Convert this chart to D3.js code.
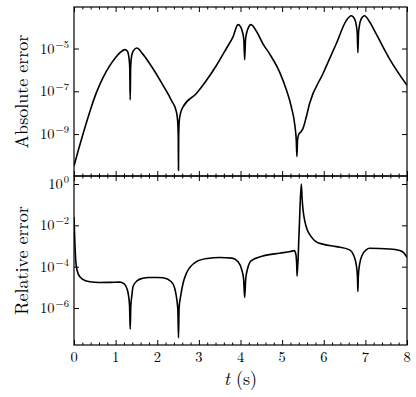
<!DOCTYPE html>
<html>
<head>
<meta charset="utf-8">
<script src="https://cdn.jsdelivr.net/npm/d3@7"></script>
<style>
  body { margin: 0; background: #fff; }
</style>
</head>
<body>
<div id="chart"></div>
<script>
// Absolute error curve
var tAbs = [0.00, 0.10, 0.22, 0.38, 0.54, 0.70, 0.86, 1.00, 1.10, 1.22, 1.28, 1.31, 1.33, 1.34, 1.35, 1.36, 1.37, 1.39, 1.43,
  1.51, 1.65, 1.82, 2.14, 2.34, 2.46, 2.49, 2.505, 2.51, 2.515, 2.53, 2.57, 2.62, 2.94, 3.18, 3.42, 3.66, 3.82,
  3.94, 4.00, 4.05, 4.08, 4.10, 4.12, 4.15, 4.20, 4.25, 4.40, 4.54, 4.70, 4.94, 5.10, 5.22, 5.31, 5.34, 5.355,
  5.37, 5.40, 5.45, 5.50, 5.58, 5.66, 5.98, 6.30, 6.54, 6.66, 6.74, 6.78, 6.805, 6.82, 6.835, 6.86, 6.90, 6.98,
  7.10, 7.26, 7.58, 8.00];
var absErr = [3.2e-11, 1.66e-10, 1.07e-9, 1.12e-8, 8.9e-8, 4.5e-7, 1.58e-6, 3.8e-6, 6.3e-6, 8.9e-6, 7.6e-6, 5.0e-6, 2.5e-6, 1.12e-6, 4.0e-8, 1.12e-6, 2.5e-6, 5.0e-6, 7.9e-6,
  1.05e-5, 5.6e-6, 1.95e-6, 1.9e-7, 3.8e-8, 1.1e-8, 4.0e-9, 6.3e-10, 2.0e-11, 6.3e-10, 4.5e-9, 1.12e-8, 1.86e-8, 7.9e-8, 3.2e-7, 1.6e-6, 1.0e-5, 3.5e-5,
  1.3e-4, 1.05e-4, 5.6e-5, 2.5e-5, 3.0e-6, 2.5e-5, 5.6e-5, 1.05e-4, 1.3e-4, 5.6e-5, 1.66e-5, 5.6e-6, 7.9e-7, 1.2e-7, 1.9e-8, 2.2e-9, 5.0e-10, 8.9e-11,
  5.0e-10, 1.0e-9, 1.26e-9, 1.8e-9, 6.3e-9, 2.7e-8, 6.6e-7, 1.66e-5, 2.0e-4, 3.4e-4, 2.4e-4, 1.26e-4, 5.0e-5, 6.3e-6, 5.0e-5, 1.26e-4, 2.4e-4, 3.4e-4,
  1.78e-4, 4.8e-5, 3.3e-6, 1.9e-7];

// Relative error curve
var tRel = [0.00, 0.02, 0.05, 0.10, 0.20, 0.38, 0.60, 0.90, 1.10, 1.20, 1.27, 1.31, 1.335, 1.35, 1.365, 1.39, 1.42,
  1.52, 1.65, 1.80, 2.00, 2.14, 2.34, 2.42, 2.46, 2.495, 2.51, 2.525, 2.56, 2.62, 2.70, 2.94, 3.20, 3.50, 3.80,
  3.94, 4.03, 4.075, 4.10, 4.125, 4.17, 4.26, 4.54, 4.94, 5.20, 5.29, 5.33, 5.35, 5.36, 5.41, 5.46, 5.48, 5.50,
  5.54, 5.60, 5.68, 5.82, 6.00, 6.30, 6.62, 6.72, 6.78, 6.81, 6.82, 6.83, 6.86, 6.92, 7.02, 7.10, 7.58, 7.80, 7.92, 8.00];
var relErr = [2.5e-2, 1.6e-3, 1.26e-4, 4.5e-5, 2.5e-5, 1.86e-5, 1.7e-5, 1.74e-5, 1.78e-5, 1.5e-5, 8.9e-6, 4.0e-6, 1.26e-6, 9.3e-8, 1.26e-6, 4.0e-6, 1.12e-5,
  2.1e-5, 2.75e-5, 3.0e-5, 3.0e-5, 2.9e-5, 1.86e-5, 8.9e-6, 3.5e-6, 7.9e-7, 3.6e-8, 1.0e-6, 3.5e-6, 1.58e-5, 4.8e-5, 1.74e-4, 2.5e-4, 2.8e-4, 2.6e-4,
  1.74e-4, 7.1e-5, 2.5e-5, 3.2e-6, 2.5e-5, 7.9e-5, 1.95e-4, 3.3e-4, 4.5e-4, 5.4e-4, 6.0e-4, 4.0e-4, 1.26e-4, 3.5e-5, 6.3e-3, 1.0, 2.0e-1, 6.3e-2,
  1.78e-2, 6.3e-3, 3.2e-3, 1.6e-3, 1.2e-3, 9.3e-4, 6.5e-4, 3.5e-4, 1.26e-4, 3.2e-5, 6.3e-6, 3.2e-5, 1.26e-4, 3.5e-4, 6.5e-4, 7.8e-4, 7.2e-4, 6.3e-4, 4.8e-4, 2.8e-4];

// Ticks
var xTicks = [0, 1, 2, 3, 4, 5, 6, 7, 8];
var xMinorTicks = [0.2, 0.4, 0.6, 0.8, 1.2, 1.4, 1.6, 1.8, 2.2, 2.4, 2.6, 2.8, 3.2, 3.4, 3.6, 3.8,
  4.2, 4.4, 4.6, 4.8, 5.2, 5.4, 5.6, 5.8, 6.2, 6.4, 6.6, 6.8, 7.2, 7.4, 7.6, 7.8];
var absTicks = [1e-9, 1e-7, 1e-5];
var absExps = ["\u22129", "\u22127", "\u22125"];
var relTicks = [1e-6, 1e-4, 1e-2, 1];
var relExps = ["\u22126", "\u22124", "\u22122", "0"];

var fontFamily = "'Latin Modern Roman', 'Liberation Serif', serif";

// SVG area
var svgWidth = 416;
var svgHeight = 397;
var margin = { top: 7, right: 9, bottom: 52, left: 74 };
var chartWidth = svgWidth - margin.left - margin.right;
var chartHeight = svgHeight - margin.top - margin.bottom;
var panelHeight = chartHeight / 2;

var svg = d3.select("#chart")
  .append("svg")
  .attr("width", svgWidth)
  .attr("height", svgHeight);

var xScale = d3.scaleLinear().domain([0, 8]).range([0, chartWidth]);
var yAbs = d3.scaleLog().domain([1.1e-11, 8.7e-4]).range([panelHeight, 0]);
var yRel = d3.scaleLog().domain([1.62e-8, 2.44]).range([panelHeight, 0]);

function drawPanel(top, yScale, yTicks, yExps, ts, vals, label, id, showXLabels) {
  var g = svg.append("g")
    .attr("transform", `translate(${margin.left}, ${margin.top + top})`);

  g.append("clipPath").attr("id", id)
    .append("rect").attr("width", chartWidth).attr("height", panelHeight);

  var pts = ts.map(function(t, i) { return [t, vals[i]]; });
  var line = d3.line()
    .x(d => xScale(d[0]))
    .y(d => yScale(d[1]))
    .curve(d3.curveMonotoneX);

  g.append("path")
    .datum(pts)
    .attr("clip-path", `url(#${id})`)
    .attr("fill", "none")
    .attr("stroke", "#000")
    .attr("stroke-width", 1.6)
    .attr("stroke-linejoin", "round")
    .attr("d", line);

  // x ticks, pointing inward on top and bottom
  function xAxis(axisFn, vals, size) {
    return axisFn(xScale).tickValues(vals).tickSizeInner(-size).tickSizeOuter(0).tickFormat("");
  }
  [[d3.axisTop, 0], [d3.axisBottom, panelHeight]].forEach(function(a) {
    g.append("g").attr("transform", `translate(0, ${a[1]})`).call(xAxis(a[0], xMinorTicks, 2.5))
      .call(s => s.select(".domain").remove());
    g.append("g").attr("transform", `translate(0, ${a[1]})`).call(xAxis(a[0], xTicks, 5))
      .call(s => s.select(".domain").remove());
  });

  // y ticks on left and right
  g.append("g").call(d3.axisLeft(yScale).tickValues(yTicks).tickSizeInner(-5).tickSizeOuter(0).tickFormat(""))
    .call(s => s.select(".domain").remove());
  g.append("g").attr("transform", `translate(${chartWidth}, 0)`)
    .call(d3.axisRight(yScale).tickValues(yTicks).tickSizeInner(-5).tickSizeOuter(0).tickFormat(""))
    .call(s => s.select(".domain").remove());

  // y tick labels 10^n
  var lab = g.selectAll(".ylab").data(yTicks).enter().append("text")
    .attr("class", "ylab")
    .attr("x", -5)
    .attr("y", d => yScale(d) + 5)
    .attr("text-anchor", "end")
    .attr("font-family", fontFamily)
    .style("font-family", fontFamily)
    .attr("font-size", 14.5);
  lab.append("tspan").text("10");
  lab.append("tspan")
    .attr("dy", -6)
    .attr("dx", 1)
    .attr("font-size", 10.5)
    .text((d, i) => yExps[i]);

  if (showXLabels) {
    g.selectAll(".xlab").data(xTicks).enter().append("text")
      .attr("class", "xlab")
      .attr("x", d => xScale(d))
      .attr("y", panelHeight + 17)
      .attr("text-anchor", "middle")
      .attr("font-family", fontFamily)
      .style("font-family", fontFamily)
      .attr("font-size", 14.5)
      .text(d => d);
  }

  // frame
  g.append("rect")
    .attr("width", chartWidth)
    .attr("height", panelHeight)
    .attr("fill", "none")
    .attr("stroke", "#000")
    .attr("stroke-width", 1.2);

  // y label
  g.append("text")
    .attr("transform", `translate(${28 - margin.left}, ${panelHeight / 2}) rotate(-90)`)
    .attr("text-anchor", "middle")
    .attr("font-family", fontFamily)
    .style("font-family", fontFamily)
    .attr("font-size", 18)
    .text(label);

  return g;
}

drawPanel(0, yAbs, absTicks, absExps, tAbs, absErr, "Absolute error", "clipAbs", false);
var bottom = drawPanel(panelHeight, yRel, relTicks, relExps, tRel, relErr, "Relative error", "clipRel", true);

// x axis label
var xl = bottom.append("text")
  .attr("x", chartWidth / 2)
  .attr("y", panelHeight + 40)
  .attr("text-anchor", "middle")
  .attr("font-family", fontFamily)
  .style("font-family", fontFamily)
  .attr("font-size", 18);
xl.append("tspan").attr("font-style", "italic").text("t");
xl.append("tspan").text(" (s)");
</script>
</body>
</html>
